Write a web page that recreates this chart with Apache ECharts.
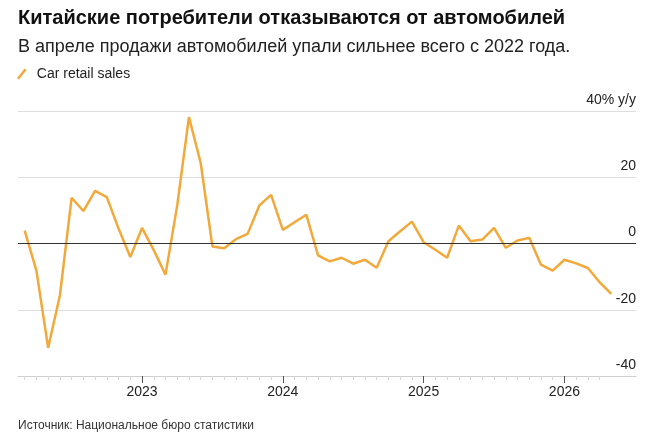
<!DOCTYPE html>
<html>
<head>
<meta charset="utf-8">
<script src="https://cdn.jsdelivr.net/npm/echarts@6/dist/echarts.min.js"></script>
<style>
  html, body { margin: 0; padding: 0; background: #fff; }
  #chart { width: 660px; height: 444px; }
</style>
</head>
<body>
<div id="chart"></div>
<script>
// monthly data, each value is plotted at the end of its month
const months = [
  '2022-02', '2022-03', '2022-04', '2022-05', '2022-06', '2022-07', '2022-08', '2022-09', '2022-10', '2022-11', '2022-12',
  '2023-01', '2023-02', '2023-03', '2023-04', '2023-05', '2023-06', '2023-07', '2023-08', '2023-09', '2023-10', '2023-11', '2023-12',
  '2024-01', '2024-02', '2024-03', '2024-04', '2024-05', '2024-06', '2024-07', '2024-08', '2024-09', '2024-10', '2024-11', '2024-12',
  '2025-01', '2025-02', '2025-03', '2025-04', '2025-05', '2025-06', '2025-07', '2025-08', '2025-09', '2025-10', '2025-11', '2025-12',
  '2026-01', '2026-02', '2026-03', '2026-04'
]
const carSales = [
  3.9, -8.2, -31.5, -15.7, 13.8, 9.8, 15.9, 14.0, 4.5, -4.1, 4.7,
  -2.0, -9.4, 11.5, 38.2, 24.3, -0.9, -1.4, 1.3, 2.9, 11.5, 14.7,
  4.1, 6.4, 8.7, -3.6, -5.4, -4.3, -6.1, -4.9, -7.3, 0.7, 3.7,
  6.6, 0.4, -1.9, -4.3, 5.4, 0.7, 1.2, 4.7, -1.3, 0.9, 1.7,
  -6.4, -8.2, -4.9, -6.0, -7.4, -11.7, -15.2
]
const yTicks = [-40, -20, 0, 20, 40]

const FONT = '"Liberation Sans", Arial, sans-serif'
const ORANGE = '#F2A93B'

// x position = month index; december values sit on the next year's tick
const monthTicks = months.slice(0, -1).map((m, i) => i)
const yearTicks = []
const yearLabels = {}
months.forEach((m, i) => {
  if (m.slice(5) === '12') {
    yearTicks.push(i)
    yearLabels[i] = String(+m.slice(0, 4) + 1)
  }
})
const X_MIN = -0.57
const X_MAX = 52.1

const chart = echarts.init(document.getElementById('chart'))
chart.setOption({
  animation: false,
  textStyle: { fontFamily: FONT },
  title: [
    {
      text: 'Китайские потребители отказываются от автомобилей',
      left: 18,
      top: 8,
      padding: 0,
      textStyle: { fontFamily: FONT, fontSize: 20, fontWeight: 'bold', color: '#111' }
    },
    {
      text: 'В апреле продажи автомобилей упали сильнее всего с 2022 года.',
      left: 18,
      top: 38,
      padding: 0,
      textStyle: { fontFamily: FONT, fontSize: 18, fontWeight: 'normal', color: '#222' }
    },
    {
      text: 'Источник: Национальное бюро статистики',
      left: 18,
      top: 420,
      padding: 0,
      textStyle: { fontFamily: FONT, fontSize: 12, fontWeight: 'normal', color: '#333' }
    }
  ],
  legend: {
    left: 17,
    top: 67,
    padding: 0,
    itemWidth: 10,
    itemHeight: 11,
    itemGap: 10,
    icon: 'path://M0,10 L8,0 L10,1.5 L2,11.5 Z',
    textStyle: { fontFamily: FONT, fontSize: 14, color: '#222', padding: [0, 0, 0, 5] },
    data: ['Car retail sales']
  },
  grid: {
    left: 18,
    right: 24,
    top: 111,
    bottom: 68
  },
  xAxis: [
    {
      type: 'value',
      min: X_MIN,
      max: X_MAX,
      axisLine: { show: true, onZero: false, lineStyle: { color: '#cfcfcf', width: 1 } },
      axisTick: { show: true, customValues: monthTicks, length: 4, lineStyle: { color: '#d6d6d6' } },
      axisLabel: { show: false },
      splitLine: { show: false }
    },
    {
      type: 'value',
      position: 'bottom',
      min: X_MIN,
      max: X_MAX,
      axisLine: { show: false, onZero: false },
      axisTick: { show: true, customValues: yearTicks, length: 7, lineStyle: { color: '#555' } },
      axisLabel: {
        show: true,
        customValues: yearTicks,
        margin: 9,
        fontFamily: FONT,
        fontSize: 14,
        color: '#222',
        formatter: v => yearLabels[Math.round(v)] || ''
      },
      splitLine: { show: false }
    }
  ],
  yAxis: {
    type: 'value',
    position: 'right',
    min: yTicks[0],
    max: yTicks[yTicks.length - 1],
    interval: 20,
    axisLine: { show: false },
    axisTick: { show: false },
    splitLine: { show: true, lineStyle: { color: '#dedede', width: 1 } },
    axisLabel: {
      inside: true,
      margin: 0,
      verticalAlign: 'bottom',
      padding: [0, 0, 4, 0],
      fontFamily: FONT,
      fontSize: 14,
      color: '#222',
      formatter: v => (v === 40 ? '40% y/y' : String(v))
    }
  },
  series: [
    {
      name: 'Car retail sales',
      type: 'line',
      xAxisIndex: 0,
      showSymbol: false,
      symbol: 'none',
      color: ORANGE,
      lineStyle: { color: ORANGE, width: 2.5 },
      data: carSales.map((v, i) => [i, v]),
      markLine: {
        silent: true,
        symbol: 'none',
        label: { show: false },
        lineStyle: { color: '#333', width: 1, type: 'solid' },
        data: [{ yAxis: 0 }]
      },
      z: 3
    }
  ]
})
</script>
</body>
</html>
